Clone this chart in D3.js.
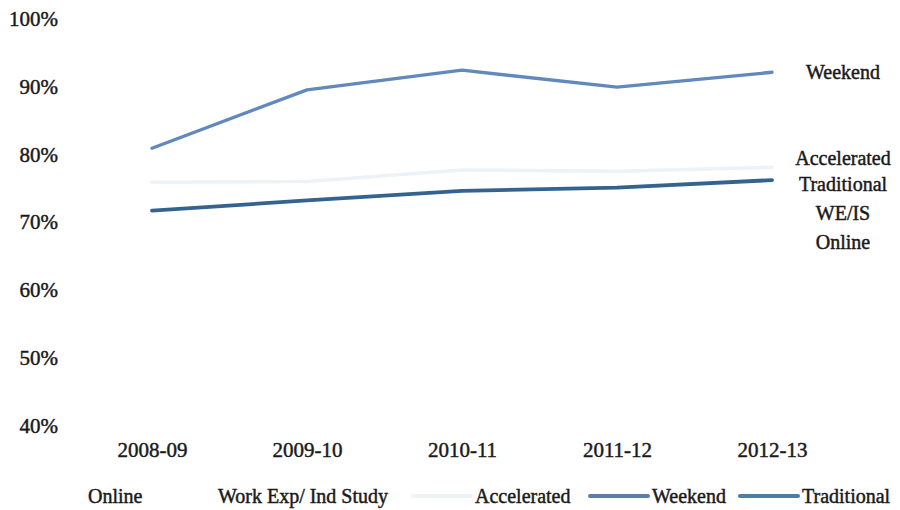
<!DOCTYPE html>
<html>
<head>
<meta charset="utf-8">
<script src="https://cdn.jsdelivr.net/npm/d3@7"></script>
<style>
  html, body { margin: 0; padding: 0; background: #fff; }
  svg text { font-family: "Liberation Serif", "DejaVu Serif", serif; fill: #1a1a1a; stroke: #1a1a1a; stroke-width: 0.45px; }
</style>
</head>
<body>
<svg id="chart" width="900" height="510"></svg>
<script>
// Academic years on the x axis
const years = ["2008-09", "2009-10", "2010-11", "2011-12", "2012-13"];

// Rates by program format (percent)
const weekend     = [80.8, 89.4, 92.3, 89.8, 92.0];
const traditional = [71.6, 73.1, 74.5, 75.0, 76.1];
const accelerated = [75.8, 75.9, 77.6, 77.4, 78.0];

// Y axis ticks
const yTicks = [40, 50, 60, 70, 80, 90, 100];

// Series shown as lines, with their colours and widths
const series = [
  { name: "Accelerated", values: accelerated, color: "#edf2f6", width: 3.5 },
  { name: "Weekend",     values: weekend,     color: "#6189bb", width: 3.3 },
  { name: "Traditional", values: traditional, color: "#35638f", width: 3.8 }
];

// End-of-line labels and the level (percent) each one sits at
const endLabels = ["Weekend", "Accelerated", "Traditional", "WE/IS", "Online"];
const endLabelLevels = [92.0, 79.4, 75.6, 71.3, 67.0];

// Legend entries along the bottom
const legendNames  = ["Online", "Work Exp/ Ind Study", "Accelerated", "Weekend", "Traditional"];
const legendColors = ["#ffffff", "#ffffff", "#eef2f6", "#5a80aa", "#4d7ca6"];

const svg = d3.select("#chart");

const x = d3.scalePoint().domain(years).range([152, 772]);
const y = d3.scaleLinear().domain([40, 100]).range([425, 18]);

// Y axis: labels only
const yAxis = d3.axisLeft(y).tickValues(yTicks).tickFormat(d => d + "%").tickSize(0).tickPadding(0);
svg.append("g")
  .attr("transform", "translate(58,0)")
  .call(yAxis)
  .call(g => g.select(".domain").remove())
  .call(g => g.selectAll("text")
    .style("font-family", "Liberation Serif, serif")
    .style("font-size", "21px")
    .attr("fill", "#1a1a1a")
    .attr("dy", "0.35em"));

// X axis: labels only
const xAxis = d3.axisBottom(x).tickSize(0).tickPadding(0);
svg.append("g")
  .attr("transform", "translate(0,442)")
  .call(xAxis)
  .call(g => g.select(".domain").remove())
  .call(g => g.selectAll("text")
    .style("font-family", "Liberation Serif, serif")
    .style("font-size", "21px")
    .attr("fill", "#1a1a1a")
    .attr("dy", "0.35em")
    .attr("y", 8));

// Lines
const line = d3.line()
  .x((d, i) => x(years[i]))
  .y(d => y(d));

svg.append("g").selectAll("path")
  .data(series)
  .join("path")
  .attr("d", d => line(d.values))
  .attr("fill", "none")
  .attr("stroke", d => d.color)
  .attr("stroke-width", d => d.width)
  .attr("stroke-linejoin", "round")
  .attr("stroke-linecap", "round");

// End labels
svg.append("g").selectAll("text")
  .data(endLabels)
  .join("text")
  .attr("x", 843)
  .attr("y", (d, i) => y(endLabelLevels[i]))
  .attr("dy", "0.35em")
  .attr("text-anchor", "middle")
  .style("font-size", "20px")
  .text(d => d);

// Bottom legend: swatch then name
const legendX = [88, 218, 475, 652, 802];
const legend = svg.append("g").attr("transform", "translate(0,496)");
legendNames.forEach((name, i) => {
  legend.append("line")
    .attr("x1", legendX[i] - 62).attr("x2", legendX[i] - 4)
    .attr("y1", 0).attr("y2", 0)
    .attr("stroke", legendColors[i])
    .attr("stroke-width", 4)
    .attr("stroke-linecap", "round");
  legend.append("text")
    .attr("x", legendX[i])
    .attr("y", 0)
    .attr("dy", "0.35em")
    .style("font-size", "20px")
    .text(name);
});
</script>
</body>
</html>
